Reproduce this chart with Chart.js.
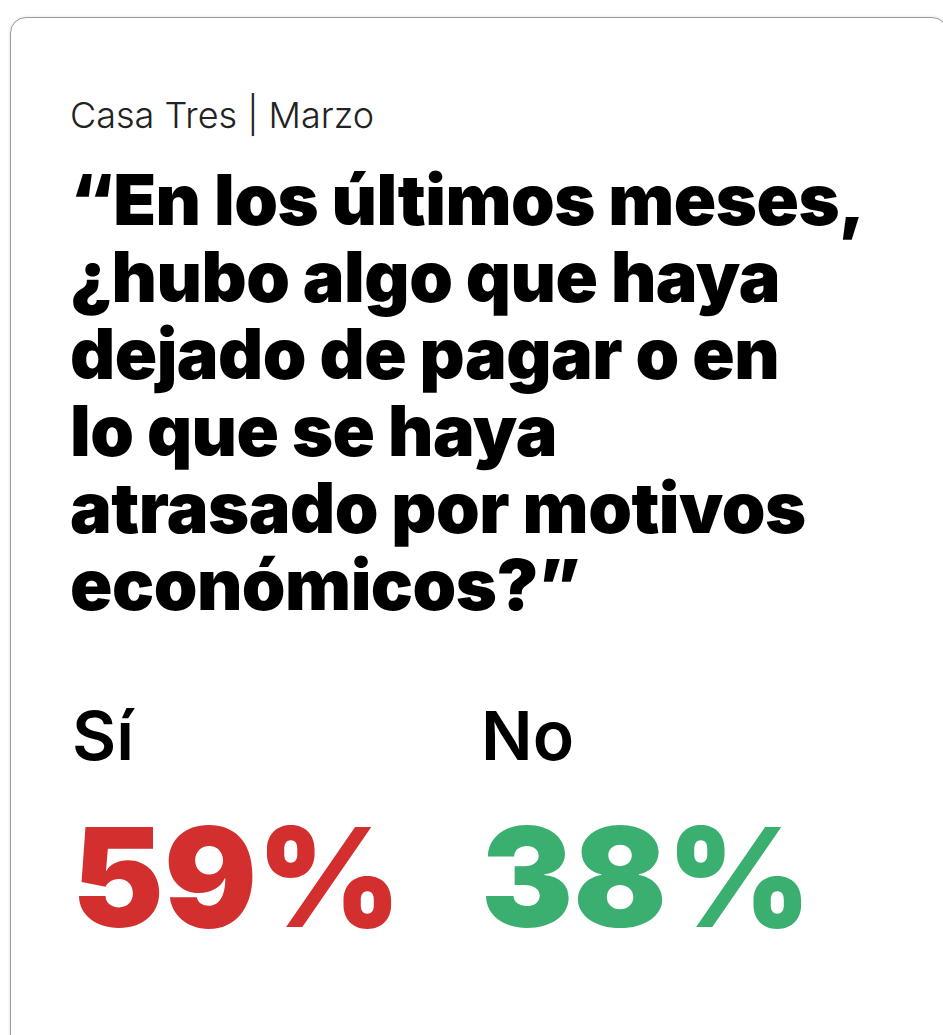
<!DOCTYPE html>
<html>
<head>
<meta charset="utf-8">
<script src="https://cdn.jsdelivr.net/npm/chart.js@4"></script>
<style>
  html, body { margin: 0; padding: 0; background: #fff; }
  body { width: 943px; height: 1035px; overflow: hidden; position: relative; font-family: Inter, "Noto Sans", sans-serif; }
  .card {
    position: absolute; left: 10px; top: 17px; width: 936px; height: 1100px;
    border: 1.5px solid #9b9b9b; border-radius: 16px; box-shadow: 0 0 3px rgba(0,0,0,0.15);
    background: #fff;
  }
  .sub { position: absolute; left: 70px; top: 93px; font-size: 36px; font-weight: 300; color: #222; }
  .q { position: absolute; left: 70px; top: 161px; font-size: 70px; font-weight: 900; line-height: 77px; color: #000; letter-spacing: -0.5px; }
  .wrap { position: absolute; left: 0; top: 690px; width: 943px; height: 260px; }
</style>
</head>
<body>
<div class="card"></div>
<div class="sub">Casa Tres | Marzo</div>
<div class="q">“En los últimos meses,<br>¿hubo algo que haya<br>dejado de pagar o en<br>lo que se haya<br>atrasado por motivos<br>económicos?”</div>
<div class="wrap"><canvas id="c"></canvas></div>
<script>
const categories = ['Sí', 'No'];
const values = [59, 38];
const colors = ['#d32f2f', '#3baf6f'];

// draws the category name and the percentage at the left edge of each category
const bigNumbers = {
  id: 'bigNumbers',
  afterDatasetsDraw(chart) {
    const ctx = chart.ctx;
    const x = chart.scales.x;
    const half = (x.getPixelForValue(1) - x.getPixelForValue(0)) / 2;
    ctx.save();
    ctx.textAlign = 'left';
    ctx.textBaseline = 'alphabetic';
    chart.data.labels.forEach((lab, i) => {
      const left = x.getPixelForValue(i) - half;
      ctx.fillStyle = '#000';
      ctx.font = '600 68px Inter, "Noto Sans", sans-serif';
      ctx.fillText(lab, left, 70);
      ctx.fillStyle = colors[i];
      ctx.font = '900 138px Inter, "Noto Sans", sans-serif';
      ctx.fillText(chart.data.datasets[0].data[i] + '%', left, 237);
    });
    ctx.restore();
  }
};

new Chart(document.getElementById('c'), {
  type: 'bar',
  data: {
    labels: categories,
    datasets: [{ data: values, backgroundColor: 'rgba(0,0,0,0)', borderWidth: 0 }]
  },
  options: {
    responsive: true,
    maintainAspectRatio: false,
    animation: false,
    layout: { padding: { left: 72, right: 53, top: 0, bottom: 0 } },
    plugins: { legend: { display: false }, tooltip: { enabled: false } },
    scales: {
      x: { display: false },
      y: { display: false, min: 0, max: 100 }
    }
  },
  plugins: [bigNumbers]
});
</script>
</body>
</html>
